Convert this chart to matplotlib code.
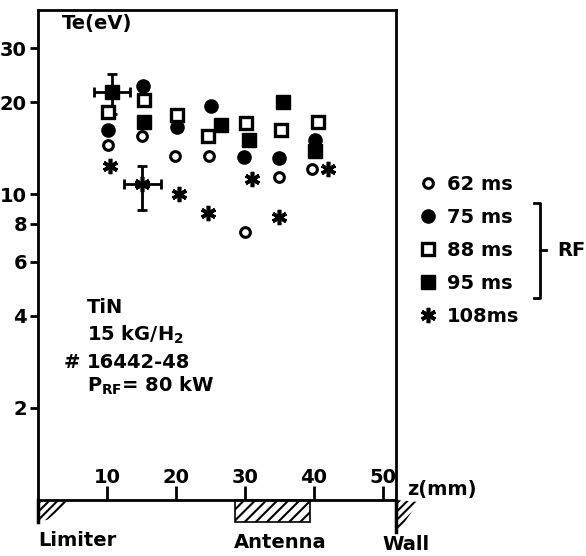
import matplotlib
matplotlib.use("Agg")
import matplotlib.pyplot as plt
import matplotlib.transforms as mtransforms
from matplotlib.patches import Polygon, Rectangle

# electron temperature vs. distance from limiter, TiN, 15 kG / H2
z_62 = [10.2, 15.1, 19.8, 24.8, 30.0, 35.0, 39.7]
te_62 = [14.5, 15.5, 13.3, 13.3, 7.5, 11.4, 12.1]

z_75 = [10.2, 15.2, 20.1, 25.1, 29.9, 35.0, 40.2]
te_75 = [16.2, 22.5, 16.6, 19.4, 13.2, 13.1, 15.0]

z_88 = [10.2, 15.3, 20.1, 24.7, 30.1, 35.2, 40.6]
te_88 = [18.5, 20.3, 18.1, 15.5, 17.1, 16.2, 17.2]

z_95 = [10.7, 15.4, 26.6, 30.6, 35.5, 40.2]
te_95 = [21.5, 17.2, 16.8, 15.0, 20.0, 13.8]

z_108 = [10.4, 15.1, 20.4, 24.7, 31.0, 35.0, 42.0]
te_108 = [12.35, 10.8, 10.0, 8.67, 11.2, 8.4, 12.1]

# representative error bars: (z, Te, z err, Te err low, Te err high)
err_95 = (10.7, 21.5, 2.6, 3.2, 3.2)
err_108 = (15.1, 10.8, 2.7, 1.9, 1.55)

y_ticks = [2, 4, 6, 8, 10, 20, 30]
x_ticks = [10, 20, 30, 40, 50]
antenna_span = (28.5, 39.5)
limiter_end = 4.9
wall_z = 51.9

W, H = 586, 556
plt.rcParams["font.family"] = "DejaVu Sans"
plt.rcParams["font.weight"] = "bold"
plt.rcParams["mathtext.default"] = "bf"
plt.rcParams["hatch.linewidth"] = 1.5

fig = plt.figure(figsize=(W / 100, H / 100), dpi=100)


def fx(x):
    return x / W


def fy(y):
    return 1 - y / H


ax = fig.add_axes([fx(38), fy(500), fx(396) - fx(38), fy(10) - fy(500)])
ax.set_yscale("log")
ax.set_xlim(0, wall_z)
ax.set_ylim(1, 40)

for s in ax.spines.values():
    s.set_linewidth(2.0)

ax.set_yticks(y_ticks)
ax.set_yticklabels([str(t) for t in y_ticks])
ax.yaxis.set_minor_locator(matplotlib.ticker.NullLocator())
ax.tick_params(axis="y", direction="out", length=6, width=2, labelsize=14, pad=2)
ax.set_xticks(x_ticks)
ax.set_xticklabels([])
ax.tick_params(axis="x", direction="in", length=10, width=2)

trans = mtransforms.blended_transform_factory(ax.transData, ax.transAxes)
for t in x_ticks:
    ax.text(t, 0.034, str(t), transform=trans, ha="center", va="baseline", fontsize=14)

ms_kw = dict(linestyle="none", color="black", clip_on=False)
ax.plot(z_62, te_62, marker="o", ms=7, mfc="white", mew=2.2, label="62 ms", **ms_kw)
ax.plot(z_75, te_75, marker="o", ms=9.5, mfc="black", mew=1, label="75 ms", **ms_kw)
ax.plot(z_88, te_88, marker="s", ms=9, mfc="white", mew=2.4, label="88 ms", **ms_kw)
ax.plot(z_95, te_95, marker="s", ms=9.5, mfc="black", mew=1, label="95 ms", **ms_kw)
ax.plot(z_108, te_108, marker=(6, 2, 0), ms=11, mew=2.6, label="108ms", **ms_kw)

for z, te, dz, lo, hi in (err_95, err_108):
    ax.errorbar([z], [te], xerr=[[dz], [dz]], yerr=[[lo], [hi]], fmt="none",
                ecolor="black", elinewidth=2, capsize=3.5, capthick=2, zorder=1)

# wall / limiter / antenna positions under the z axis
ax.add_patch(Polygon([(0, 0), (limiter_end, 0), (1.4, -0.04), (0, -0.045)], closed=True,
                     transform=trans, facecolor="white", edgecolor="black",
                     hatch="////", linewidth=0, clip_on=False))
ax.plot([0, 0], [0, -0.045], transform=trans, color="black", lw=2.5, clip_on=False)
ax.add_patch(Rectangle((antenna_span[0], -0.045), antenna_span[1] - antenna_span[0], 0.045,
                       transform=trans, facecolor="white", edgecolor="black",
                       hatch="///", linewidth=1.2, clip_on=False))
ax.add_patch(Polygon([(wall_z, 0), (wall_z + 3.3, -0.004), (wall_z + 1.0, -0.05),
                      (wall_z, -0.065)], closed=True,
                     transform=trans, facecolor="white", edgecolor="black",
                     hatch="////", linewidth=0, clip_on=False))
ax.plot([wall_z, wall_z], [0, -0.065], transform=trans, color="black", lw=2.5, clip_on=False)

fig.text(fx(77), fy(541), "Limiter", ha="center", va="center", fontsize=14)
fig.text(fx(280), fy(543), "Antenna", ha="center", va="center", fontsize=14)
fig.text(fx(406), fy(544), "Wall", ha="center", va="center", fontsize=14)
fig.text(fx(407), fy(490), "z(mm)", ha="left", va="center", fontsize=14)

fig.text(fx(62), fy(24), "Te(eV)", ha="left", va="center", fontsize=14)

fig.text(fx(87), fy(313), "TiN", ha="left", va="baseline", fontsize=14)
fig.text(fx(87), fy(341), r"15 kG/H$_2$", ha="left", va="baseline", fontsize=14)
fig.text(fx(64), fy(368), "#", ha="left", va="baseline", fontsize=14)
fig.text(fx(87), fy(368), "16442-48", ha="left", va="baseline", fontsize=14)
fig.text(fx(87), fy(392), r"P$_{RF}$= 80 kW", ha="left", va="baseline", fontsize=14)

leg = ax.legend(loc="upper left", bbox_to_anchor=(fx(418), fy(175)),
                bbox_transform=fig.transFigure, frameon=False, fontsize=14,
                handlelength=1.0, handletextpad=0.5, borderpad=0,
                labelspacing=0.72, borderaxespad=0)

# bracket grouping the RF shots
bx = fx(540)
fig.add_artist(plt.Line2D([fx(534), bx, bx, fx(534)], [fy(203), fy(203), fy(298), fy(298)],
                          color="black", lw=2))
fig.add_artist(plt.Line2D([bx, fx(546)], [fy(250), fy(250)], color="black", lw=2))
fig.text(fx(557), fy(250), "RF", ha="left", va="center", fontsize=14)

fig.savefig("out.png", dpi=100, facecolor="white")
